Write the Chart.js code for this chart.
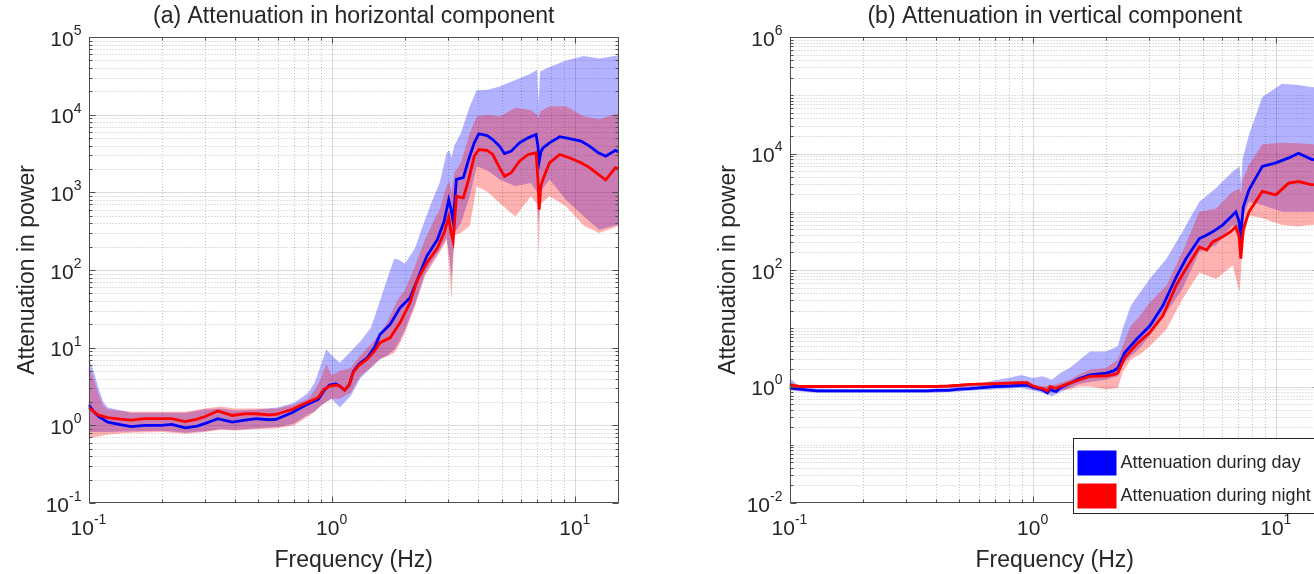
<!DOCTYPE html>
<html>
<head>
<meta charset="utf-8">
<title>Attenuation in power</title>
<script src="https://cdn.jsdelivr.net/npm/chart.js@4.4.1/dist/chart.umd.min.js"></script>
<style>
  html, body { margin: 0; padding: 0; background: #fff; overflow: hidden; }
  #wrap { position: relative; width: 1314px; height: 574px; overflow: hidden; }
  canvas { position: absolute; top: 0; }
  #chartA { left: 0; }
  #chartB { left: 660px; }
</style>
</head>
<body>
<div id="wrap">
  <canvas id="chartA" width="660" height="574"></canvas>
  <canvas id="chartB" width="720" height="574"></canvas>
</div>
<script>
// ---- (a) horizontal component: median curves ----
const freqA = [0.1, 0.105, 0.11, 0.12, 0.135, 0.15, 0.17, 0.2, 0.22, 0.25, 0.28, 0.3, 0.34, 0.39, 0.44, 0.49, 0.55, 0.59, 0.69, 0.78,
  0.88, 0.93, 0.98, 1.04, 1.08, 1.13, 1.18, 1.23, 1.3, 1.4, 1.5, 1.58, 1.74, 1.91, 2.1, 2.24, 2.46, 2.72, 2.9, 3.03,
  3.1, 3.16, 3.26, 3.48, 3.66, 3.86, 4.03, 4.36, 4.6, 4.9, 5.14, 5.48, 5.92, 6.43, 6.93, 7.05, 7.14, 7.25, 7.4, 7.87,
  8.67, 9.5, 10.6, 11.5, 12.5, 13.4, 14.7, 15.2];
const dayA = [1.85, 1.5, 1.3, 1.1, 1.02, 0.96, 1.0, 1.0, 1.03, 0.93, 0.98, 1.05, 1.22, 1.1, 1.17, 1.22, 1.18, 1.19, 1.46, 1.81,
  2.16, 2.8, 3.3, 3.4, 3.2, 2.84, 3.3, 5.0, 6.2, 7.4, 10, 14.8, 19.9, 32.6, 43.8, 71.6, 150, 246, 420, 803,
  600, 420, 1466, 1550, 2650, 4340, 5680, 5370, 4790, 3940, 3160, 3390, 4340, 5030, 5560, 4000, 2520, 3300, 3740, 4340,
  5200, 4900, 4570, 3940, 3230, 2920, 3470, 3300];
const nightA = [1.7, 1.5, 1.35, 1.26, 1.2, 1.17, 1.22, 1.22, 1.22, 1.12, 1.2, 1.29, 1.53, 1.34, 1.41, 1.41, 1.36, 1.38, 1.61, 1.92,
  2.27, 2.9, 3.2, 3.3, 3.2, 2.84, 3.3, 4.9, 6.0, 7.1, 9, 11.6, 13.4, 20.9, 37.8, 71.6, 123, 192, 300, 480,
  300, 236, 890, 850, 1466, 2930, 3560, 3480, 3070, 2080, 1610, 1790, 2520, 3070, 3230, 1500, 600, 1200, 1470, 2400,
  3070, 2790, 2400, 2080, 1700, 1450, 2080, 2000];

// ---- (a) spread bands ----
const bandFreqA = [0.1, 0.105, 0.11, 0.115, 0.12, 0.15, 0.2, 0.25, 0.3, 0.35, 0.4, 0.5, 0.6, 0.7, 0.8, 0.85, 0.9, 0.95, 1.0, 1.08,
  1.2, 1.31, 1.45, 1.58, 1.7, 1.81, 1.9, 2.0, 2.2, 2.42, 2.6, 2.78, 2.97, 3.05, 3.11, 3.2, 3.4, 3.7, 3.95, 4.4,
  4.9, 5.7, 6.6, 7.0, 7.1, 7.2, 7.87, 9.2, 10.9, 12.6, 15.2];
const dayHighA = [7.4, 5.0, 3.0, 2.0, 1.7, 1.45, 1.45, 1.45, 1.6, 1.65, 1.55, 1.6, 1.7, 1.95, 2.6, 3.5, 5.8, 9.5, 8.0, 6.4,
  9, 12, 18, 40, 80, 140, 135, 120, 190, 445, 800, 1320, 3200, 3500, 2800, 4000, 5800, 12800, 20600, 21000,
  23000, 28000, 34000, 38000, 14000, 36000, 41000, 50000, 57000, 53000, 58000];
const dayLowA = [0.82, 0.82, 0.82, 0.82, 0.82, 0.83, 0.85, 0.8, 0.84, 0.9, 0.88, 0.92, 0.95, 1.05, 1.38, 1.5, 1.77, 2.0, 2.2, 1.7,
  2.4, 4.0, 5.5, 7.1, 8, 9.5, 12, 17, 36, 90, 130, 180, 260, 150, 80, 300, 400, 900, 2170, 1900,
  1466, 1200, 1320, 1000, 400, 1000, 1466, 803, 490, 330, 385];
const nightHighA = [5.8, 4.0, 2.5, 1.8, 1.6, 1.5, 1.5, 1.5, 1.65, 1.75, 1.65, 1.65, 1.65, 1.86, 2.2, 2.8, 3.9, 6.1, 4.4, 5.0,
  5.5, 7.9, 11, 15.5, 22, 34, 45, 55, 112, 246, 400, 600, 1200, 1400, 1000, 1800, 2400, 5800, 9500, 10000,
  9500, 12300, 11500, 10000, 9000, 11000, 12800, 12800, 9500, 8700, 10500];
const nightLowA = [0.69, 0.7, 0.72, 0.74, 0.76, 0.8, 0.82, 0.78, 0.82, 0.88, 0.86, 0.9, 0.92, 1.0, 1.3, 1.5, 1.77, 2.0, 2.2, 2.2,
  2.63, 4.3, 5.5, 7.1, 7.8, 8.6, 11, 15.5, 34, 83, 120, 167, 246, 100, 40, 280, 300, 370, 1200, 1000,
  730, 490, 890, 700, 137, 700, 890, 660, 370, 300, 370];

// ---- (b) vertical component: median curves ----
const freqB = [0.1, 0.105, 0.11, 0.12, 0.13, 0.2, 0.3, 0.37, 0.4, 0.45, 0.5, 0.55, 0.6, 0.7, 0.8, 0.9, 0.95, 1.0, 1.05, 1.1,
  1.15, 1.18, 1.22, 1.25, 1.3, 1.42, 1.55, 1.72, 2.01, 2.15, 2.24, 2.39, 2.67, 3.03, 3.43, 3.89, 4.27, 4.85, 5.2, 5.5,
  6.04, 6.5, 6.85, 7.05, 7.18, 7.35, 7.76, 8.8, 10, 11.3, 12.4, 14.1, 15.2];
const dayB = [0.96, 0.92, 0.9, 0.87, 0.84, 0.84, 0.84, 0.84, 0.86, 0.86, 0.9, 0.92, 0.95, 1.0, 1.02, 1.05, 1.06, 0.96, 0.92, 0.87,
  0.78, 0.9, 0.84, 0.82, 0.95, 1.14, 1.35, 1.59, 1.7, 1.85, 2.08, 3.78, 6.4, 10.9, 24.3, 75, 156, 347, 400, 452,
  590, 800, 1000, 700, 395, 1200, 2370, 6000, 6900, 8400, 10100, 7850, 8000];
const nightB = [1.09, 1.03, 1.0, 1.0, 1.0, 1.0, 1.0, 1.0, 1.0, 1.02, 1.05, 1.09, 1.1, 1.12, 1.14, 1.16, 1.16, 1.02, 0.96, 0.92,
  0.84, 1.0, 0.95, 0.94, 1.0, 1.14, 1.3, 1.49, 1.53, 1.6, 1.7, 3.1, 5.25, 8.4, 16.3, 54, 105, 248, 220, 303,
  370, 450, 550, 400, 156, 500, 1000, 2230, 1950, 3100, 3300, 2900, 3000];

// ---- (b) spread bands ----
const bandFreqB = [0.1, 0.11, 0.13, 0.2, 0.3, 0.4, 0.5, 0.6, 0.7, 0.8, 0.9, 1.0, 1.1, 1.2, 1.3, 1.42, 1.55, 1.72, 2.0, 2.24,
  2.35, 2.53, 2.75, 3.03, 3.55, 4.13, 4.85, 5.68, 6.65, 7.1, 7.2, 7.3, 7.76, 8.8, 10.6, 12.4, 14.1, 15.2];
const dayHighB = [1.4, 1.0, 0.92, 0.9, 0.9, 0.92, 1.02, 1.12, 1.28, 1.42, 1.57, 1.4, 1.5, 1.3, 1.7, 2.08, 2.8, 4.0, 4.0, 4.9,
  10, 24, 40, 70, 156, 452, 1490, 2550, 4900, 6000, 3000, 8000, 21000, 93000, 157000, 150000, 137000, 140000];
const dayLowB = [0.85, 0.82, 0.78, 0.78, 0.78, 0.78, 0.82, 0.86, 0.9, 0.92, 0.95, 0.85, 0.78, 0.68, 0.8, 0.95, 1.1, 1.2, 1.3, 1.5,
  2.4, 3.3, 4.5, 7.4, 18.6, 47, 203, 265, 590, 300, 400, 800, 1480, 1300, 1000, 1000, 1000, 1000];
const nightHighB = [1.15, 1.05, 1.03, 1.03, 1.03, 1.03, 1.1, 1.15, 1.2, 1.22, 1.25, 1.1, 1.0, 1.05, 1.15, 1.3, 1.6, 1.94, 2.08, 2.9,
  5, 10.9, 16, 27.7, 54, 203, 1000, 1140, 2230, 2500, 2000, 3500, 6400, 14400, 15300, 15000, 14400, 14000];
const nightLowB = [0.98, 0.96, 0.96, 0.96, 0.96, 0.96, 0.98, 1.0, 1.02, 1.04, 1.05, 0.92, 0.85, 0.78, 0.85, 0.9, 1.0, 1.0, 0.9, 0.94,
  1.8, 2.9, 3.5, 4.9, 9.6, 31.6, 91, 70, 120, 41, 100, 300, 870, 770, 590, 560, 600, 600];

const seriesNames = ['Attenuation during day', 'Attenuation during night'];

const INK = '#262626';
const FONT = '"Liberation Sans", Arial, Helvetica, sans-serif';
const BLUE = '#0000ff';
const RED = '#ff0000';
const BLUE_BAND = 'rgba(0,0,255,0.3)';
const RED_BAND = 'rgba(255,0,0,0.3)';

function toPoints(xs, ys) {
  return xs.map((x, i) => ({ x: x, y: ys[i] }));
}

// 1..9 x 10^n inside [min, max]
function decadeTicks(min, max) {
  const out = [];
  const e0 = Math.floor(Math.log10(min));
  const e1 = Math.ceil(Math.log10(max));
  for (let e = e0; e <= e1; e++) {
    for (let m = 1; m <= 9; m++) {
      const v = m * Math.pow(10, e);
      if (v >= min * 0.9999 && v <= max * 1.0001) out.push({ value: v, major: m === 1 });
    }
  }
  return out;
}

// labelled decade? (step = 2 keeps only even exponents)
function isMajor(v, step) {
  const l = Math.log10(v);
  const r = Math.round(l);
  return Math.abs(l - r) < 1e-6 && r % step === 0;
}

function band(xs, hi, lo, color, order) {
  const common = { borderColor: 'rgba(0,0,0,0)', borderWidth: 0, pointRadius: 0, pointHoverRadius: 0, order: order };
  return [
    Object.assign({ label: 'upper', data: toPoints(xs, hi), fill: '+1', backgroundColor: color }, common),
    Object.assign({ label: 'lower', data: toPoints(xs, lo), fill: false }, common)
  ];
}

function curve(label, xs, ys, color, order) {
  return { label: label, data: toPoints(xs, ys), borderColor: color, backgroundColor: color, borderWidth: 2.8,
    pointRadius: 0, pointHoverRadius: 0, fill: false, tension: 0, order: order };
}

// draws "10" with a raised exponent
function drawPower(ctx, exp, x, y, align) {
  const base = '21px ' + FONT, sup = '14px ' + FONT;
  ctx.font = base;
  const wb = ctx.measureText('10').width;
  ctx.font = sup;
  const we = ctx.measureText(String(exp)).width;
  const left = align === 'right' ? x - wb - we : x - (wb + we) / 2;
  ctx.textAlign = 'left';
  ctx.textBaseline = 'middle';
  ctx.fillStyle = INK;
  ctx.font = base;
  ctx.fillText('10', left, y + 3);
  ctx.font = sup;
  ctx.fillText(String(exp), left + wb, y - 6);
}

// MATLAB-like axes: dotted minor grid, solid major grid, boxed frame, inward ticks
const matlabAxes = {
  id: 'matlabAxes',
  beforeDatasetsDraw(chart, args, opts) {
    const { ctx, chartArea: a } = chart;
    const sx = chart.scales.x, sy = chart.scales.y;
    const ystep = opts.yStep || 1;
    ctx.save();
    ctx.beginPath();
    ctx.rect(a.left, a.top, a.right - a.left, a.bottom - a.top);
    ctx.clip();
    ctx.lineWidth = 1;
    [false, true].forEach(major => {
      ctx.strokeStyle = major ? 'rgba(0,0,0,0.14)' : 'rgba(0,0,0,0.24)';
      ctx.setLineDash(major ? [] : [1, 2]);
      sx.ticks.forEach(t => {
        if (isMajor(t.value, 1) !== major) return;
        const px = Math.round(sx.getPixelForValue(t.value)) + 0.5;
        ctx.beginPath(); ctx.moveTo(px, a.top); ctx.lineTo(px, a.bottom); ctx.stroke();
      });
      sy.ticks.forEach(t => {
        if (isMajor(t.value, ystep) !== major) return;
        const py = Math.round(sy.getPixelForValue(t.value)) + 0.5;
        ctx.beginPath(); ctx.moveTo(a.left, py); ctx.lineTo(a.right, py); ctx.stroke();
      });
    });
    ctx.restore();
  },
  afterDatasetsDraw(chart, args, opts) {
    const { ctx, chartArea: a } = chart;
    const sx = chart.scales.x, sy = chart.scales.y;
    const ystep = opts.yStep || 1;
    const L = Math.round(a.left) + 0.5, R = Math.round(a.right) - 0.5;
    const T = Math.round(a.top) + 0.5, B = Math.round(a.bottom) - 0.5;
    ctx.save();
    ctx.strokeStyle = '#4d4d4d';
    ctx.lineWidth = 1;
    ctx.strokeRect(L, T, R - L, B - T);
    ctx.beginPath();
    sx.ticks.forEach(t => {
      const len = isMajor(t.value, 1) ? 6 : 3;
      const px = Math.round(sx.getPixelForValue(t.value)) + 0.5;
      ctx.moveTo(px, B); ctx.lineTo(px, B - len);
      ctx.moveTo(px, T); ctx.lineTo(px, T + len);
    });
    sy.ticks.forEach(t => {
      const len = isMajor(t.value, ystep) ? 6 : 3;
      const py = Math.round(sy.getPixelForValue(t.value)) + 0.5;
      ctx.moveTo(L, py); ctx.lineTo(L + len, py);
      ctx.moveTo(R, py); ctx.lineTo(R - len, py);
    });
    ctx.stroke();
    sx.ticks.forEach(t => {
      if (!isMajor(t.value, 1)) return;
      drawPower(ctx, Math.round(Math.log10(t.value)), sx.getPixelForValue(t.value), a.bottom + 23, 'center');
    });
    sy.ticks.forEach(t => {
      if (!isMajor(t.value, ystep)) return;
      drawPower(ctx, Math.round(Math.log10(t.value)), a.left - 7, sy.getPixelForValue(t.value), 'right');
    });
    ctx.restore();
  }
};

// boxed legend in the lower right corner of the plot
const cornerLegend = {
  id: 'cornerLegend',
  afterDraw(chart, args, opts) {
    if (!opts.show) return;
    const { ctx, chartArea: a } = chart;
    const left = Math.round(a.right) - 247 + 0.5;
    const top = Math.round(a.bottom) - 65 + 0.5;
    const w = 245, h = 75;
    ctx.save();
    ctx.fillStyle = '#fff';
    ctx.fillRect(left, top, w, h);
    ctx.strokeStyle = INK;
    ctx.lineWidth = 1;
    ctx.strokeRect(left, top, w, h);
    const rows = [[seriesNames[0], BLUE], [seriesNames[1], RED]];
    ctx.font = '18px ' + FONT;
    ctx.textAlign = 'left';
    ctx.textBaseline = 'middle';
    rows.forEach((r, i) => {
      const y0 = top + 12 + i * 33;
      ctx.fillStyle = r[1];
      ctx.fillRect(left + 4, y0, 39, 25);
      ctx.fillStyle = INK;
      ctx.fillText(r[0], left + 47, y0 + 13);
    });
    ctx.restore();
  }
};

function buildChart(id, cfg) {
  const datasets = [].concat(
    band(cfg.bandFreq, cfg.dayHigh, cfg.dayLow, BLUE_BAND, 4),
    band(cfg.bandFreq, cfg.nightHigh, cfg.nightLow, RED_BAND, 3),
    [curve(seriesNames[0], cfg.freq, cfg.day, BLUE, 2), curve(seriesNames[1], cfg.freq, cfg.night, RED, 1)]
  );
  return new Chart(document.getElementById(id), {
    type: 'line',
    data: { datasets: datasets },
    plugins: [matlabAxes, cornerLegend],
    options: {
      responsive: false,
      animation: false,
      events: [],
      layout: { padding: { left: 0, right: cfg.padRight, top: 0, bottom: 0 } },
      plugins: {
        legend: { display: false },
        tooltip: { enabled: false },
        filler: { propagate: false },
        matlabAxes: { yStep: cfg.yStep },
        cornerLegend: { show: cfg.legend },
        title: {
          display: true, text: cfg.title, fullSize: false, color: INK,
          font: { family: FONT, size: 23, weight: 'normal' },
          padding: { top: 3, bottom: 6.4 }
        }
      },
      scales: {
        x: {
          type: 'logarithmic', min: 0.1, max: 15.2,
          grid: { display: false }, border: { display: false },
          ticks: { display: false, autoSkip: false },
          afterBuildTicks: s => { s.ticks = decadeTicks(s.min, s.max); },
          afterFit: s => { s.height = 71; },
          title: { display: true, text: 'Frequency (Hz)', color: INK,
            font: { family: FONT, size: 23 }, padding: { top: 0, bottom: 0 } }
        },
        y: {
          type: 'logarithmic', min: cfg.yMin, max: cfg.yMax,
          grid: { display: false }, border: { display: false },
          ticks: { display: false, autoSkip: false },
          afterBuildTicks: s => { s.ticks = decadeTicks(s.min, s.max); },
          afterFit: s => { s.width = cfg.yWidth; },
          title: { display: true, text: 'Attenuation in power', color: INK,
            font: { family: FONT, size: 23 }, padding: { top: cfg.yTitlePad, bottom: 0 } }
        }
      }
    }
  });
}

buildChart('chartA', {
  title: '(a) Attenuation in horizontal component',
  freq: freqA, day: dayA, night: nightA,
  bandFreq: bandFreqA, dayHigh: dayHighA, dayLow: dayLowA, nightHigh: nightHighA, nightLow: nightLowA,
  yMin: 0.1, yMax: 1e5, yStep: 1, yWidth: 88.5, yTitlePad: 14, padRight: 41, legend: false
});

buildChart('chartB', {
  title: '(b) Attenuation in vertical component',
  freq: freqB, day: dayB, night: nightB,
  bandFreq: bandFreqB, dayHigh: dayHighB, dayLow: dayLowB, nightHigh: nightHighB, nightLow: nightLowB,
  yMin: 0.01, yMax: 1e6, yStep: 2, yWidth: 129.5, yTitlePad: 55, padRight: 60, legend: true
});
</script>
</body>
</html>
